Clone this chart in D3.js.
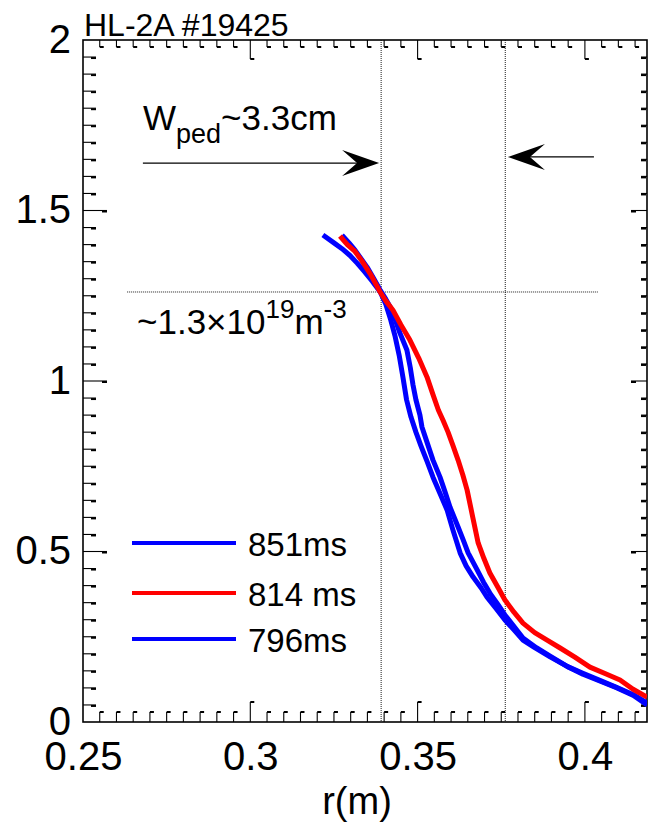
<!DOCTYPE html>
<html><head><meta charset="utf-8">
<script src="https://cdn.jsdelivr.net/npm/d3@7"></script>
<style>
body{margin:0;background:#fff}
text{font-family:"Liberation Sans",Arial,Helvetica,sans-serif;fill:#000}
</style>
</head><body>
<svg id="c" width="648" height="829"></svg>
<script>
// ---------- data ----------
const title = "HL-2A #19425";
const xLabel = "r(m)";
const xTickValues = [0.25, 0.3, 0.35, 0.4];
const yTickValues = [0, 0.5, 1, 1.5, 2];
const seriesNames = ["851ms", "814 ms", "796ms"];
const seriesColors = ["#0000ff", "#ff0000", "#0000ff"];

const r851 = [0.3217,0.3250,0.3274,0.3298,0.3320,0.3340,0.3365,0.3388,0.3405,0.3420,0.3433,0.3445,0.3456,0.3467,0.3480,0.3495,0.3510,0.3528,0.3546,0.3567,0.3588,0.3605,0.3627,0.3645,0.3666,0.3690,0.3707,0.3735,0.3761,0.3790,0.3815,0.3850,0.3896,0.3947,0.3994,0.4050,0.4096,0.4145,0.4186];
const n851 = [1.428,1.405,1.388,1.368,1.345,1.322,1.292,1.262,1.225,1.178,1.130,1.075,1.012,0.945,0.895,0.850,0.810,0.765,0.718,0.670,0.622,0.565,0.496,0.458,0.425,0.393,0.367,0.332,0.299,0.268,0.240,0.218,0.191,0.163,0.143,0.120,0.101,0.080,0.056];

const r814 = [0.3268,0.3290,0.3313,0.3335,0.3360,0.3388,0.3405,0.3426,0.3450,0.3477,0.3503,0.3528,0.3546,0.3562,0.3576,0.3591,0.3606,0.3621,0.3635,0.3648,0.3665,0.3681,0.3698,0.3716,0.3740,0.3761,0.3788,0.3815,0.3850,0.3887,0.3926,0.3970,0.4015,0.4060,0.4105,0.4144,0.4186];
const n814 = [1.425,1.400,1.380,1.350,1.312,1.261,1.235,1.208,1.165,1.120,1.068,1.012,0.960,0.915,0.885,0.850,0.810,0.768,0.725,0.680,0.600,0.525,0.480,0.437,0.395,0.358,0.322,0.290,0.262,0.240,0.217,0.190,0.161,0.142,0.123,0.096,0.073];

const r796 = [0.3274,0.3295,0.3313,0.3330,0.3349,0.3368,0.3388,0.3405,0.3418,0.3433,0.3447,0.3468,0.3478,0.3486,0.3495,0.3507,0.3513,0.3530,0.3546,0.3567,0.3582,0.3597,0.3621,0.3636,0.3651,0.3678,0.3697,0.3716,0.3740,0.3761,0.3790,0.3815,0.3855,0.3896,0.3947,0.3994,0.4050,0.4096,0.4145,0.4186];
const n796 = [1.428,1.405,1.384,1.360,1.334,1.302,1.267,1.240,1.217,1.180,1.141,1.091,1.040,0.990,0.945,0.900,0.865,0.815,0.768,0.718,0.675,0.630,0.572,0.535,0.496,0.446,0.410,0.378,0.345,0.314,0.278,0.246,0.218,0.193,0.163,0.140,0.118,0.100,0.078,0.050];

// annotation values (data coordinates)
const pedLeft = 0.3391, pedRight = 0.3762;      // vertical dotted lines
const pedDensity = 1.261;                        // horizontal dotted line
const hLineRange = [0.2632, 0.4039];
const arrowLeft = {from: 0.2679, to: 0.3385, n: 1.639};
const arrowRight = {from: 0.4027, to: 0.3770, n: 1.657};

// ---------- layout ----------
const svg = d3.select("#c");
const x = d3.scaleLinear().domain([0.25, 0.41856]).range([83, 647]);
const y = d3.scaleLinear().domain([0, 2]).range([722, 40]);
const X0 = x.range()[0], X1 = x.range()[1], Y0 = y.range()[0], Y1 = y.range()[1];

// frame
svg.append("rect").attr("x", X0).attr("y", Y1).attr("width", X1 - X0).attr("height", Y0 - Y1)
  .attr("fill", "none").attr("stroke", "#000").attr("stroke-width", 1.6);

// ticks
const xMinor = d3.range(0, 34).map(i => +(0.25 + i * 0.005).toFixed(3)).filter(v => v > 0.25 && v < x.domain()[1]);
const yMinor = d3.range(1, 40).map(i => +(i * 0.05).toFixed(2));
const isMajorX = v => xTickValues.some(t => Math.abs(t - v) < 1e-6);
const isMajorY = v => yTickValues.some(t => Math.abs(t - v) < 1e-6);

const tk = svg.append("g").attr("stroke", "#000");
xMinor.forEach(v => {
  const len = isMajorX(v) ? 20 : 10;
  const px = x(v);
  tk.append("line").attr("x1", px).attr("x2", px).attr("y1", Y0).attr("y2", Y0 - len).attr("stroke-width", 1.1);
  tk.append("line").attr("x1", px).attr("x2", px + 4).attr("y1", Y0 - len).attr("y2", Y0 - len).attr("stroke-width", 2);
  const lt = isMajorX(v) ? 19 : 7;
  tk.append("line").attr("x1", px).attr("x2", px).attr("y1", Y1).attr("y2", Y1 + lt).attr("stroke-width", 1.1);
  tk.append("line").attr("x1", px).attr("x2", px + 4).attr("y1", Y1 + lt).attr("y2", Y1 + lt).attr("stroke-width", 2);
});
yMinor.forEach(v => {
  const py = y(v);
  const ll = isMajorY(v) ? 24 : 13;
  tk.append("line").attr("x1", X0).attr("x2", X0 + ll).attr("y1", py).attr("y2", py).attr("stroke-width", 1.1);
  tk.append("line").attr("x1", X0 + ll - 5).attr("x2", X0 + ll).attr("y1", py + 1).attr("y2", py + 1).attr("stroke-width", 2);
  const lr = isMajorY(v) ? 16 : 6;
  tk.append("line").attr("x1", X1).attr("x2", X1 - lr).attr("y1", py).attr("y2", py).attr("stroke-width", 1.1);
  tk.append("line").attr("x1", X1 - lr).attr("x2", X1 - lr + 5).attr("y1", py + 1).attr("y2", py + 1).attr("stroke-width", 2);
});

// tick labels via d3 axes
const xAxis = svg.append("g").attr("transform", `translate(0,${Y0})`)
  .call(d3.axisBottom(x).tickValues(xTickValues).tickSize(0).tickFormat(d3.format("")));
xAxis.select(".domain").remove();
xAxis.selectAll("text").attr("y", 48).attr("dy", 0).style("font-size", "40px")
  .style("font-family", "'Liberation Sans',Arial,sans-serif").attr("fill", "#000");

const yAxis = svg.append("g").attr("transform", `translate(${X0},0)`)
  .call(d3.axisLeft(y).tickValues(yTickValues).tickSize(0).tickFormat(d3.format("")));
yAxis.select(".domain").remove();
yAxis.selectAll("text").attr("x", -12).attr("dy", "0.3em").style("font-size", "40px")
  .style("font-family", "'Liberation Sans',Arial,sans-serif").attr("fill", "#000");

// axis title & plot title
svg.append("text").attr("x", 357).attr("y", 814).attr("text-anchor", "middle")
  .style("font-size", "38px").text(xLabel);
svg.append("text").attr("x", 84).attr("y", 36).style("font-size", "32px").text(title);

// dotted guide lines
const guides = svg.append("g").attr("stroke", "#000").attr("stroke-width", 0.9).attr("stroke-dasharray", "1,1");
[pedLeft, pedRight].forEach(v => guides.append("line").attr("x1", x(v)).attr("x2", x(v)).attr("y1", Y1).attr("y2", Y0));
guides.append("line").attr("x1", x(hLineRange[0])).attr("x2", x(hLineRange[1]))
  .attr("y1", y(pedDensity)).attr("y2", y(pedDensity));

// arrows
function arrow(a) {
  const x0 = x(a.from), x1 = x(a.to), py = y(a.n);
  const d = x1 > x0 ? 1 : -1;
  const L = 37, hw = 13, notch = 15;
  svg.append("line").attr("x1", x0).attr("x2", x1 - d * 20).attr("y1", py).attr("y2", py)
    .attr("stroke", "#000").attr("stroke-width", 1.2);
  svg.append("path").attr("d",
    `M${x1},${py} L${x1 - d * L},${py - hw} L${x1 - d * (L - notch)},${py} L${x1 - d * L},${py + hw} Z`)
    .attr("fill", "#000");
}
arrow(arrowLeft);
arrow(arrowRight);

// annotation texts
const t1 = svg.append("text").attr("x", 143).attr("y", 130).style("font-size", "35px");
t1.append("tspan").text("W");
t1.append("tspan").attr("dy", 13).style("font-size", "27px").text("ped");
t1.append("tspan").attr("dy", -13).text("~3.3cm");

const t2 = svg.append("text").attr("x", 137).attr("y", 334).style("font-size", "35px");
t2.append("tspan").text("~1.3\u00d710");
t2.append("tspan").attr("dy", -16).style("font-size", "26px").text("19");
t2.append("tspan").attr("dy", 16).text("m");
t2.append("tspan").attr("dy", -16).style("font-size", "26px").text("-3");

// curves
svg.append("clipPath").attr("id", "clip").append("rect")
  .attr("x", X0).attr("y", Y1).attr("width", X1 - X0).attr("height", Y0 - Y1);
const line = d3.line().x(d => x(d[0])).y(d => y(d[1]));
const series = [
  {r: r796, n: n796, c: seriesColors[2]},
  {r: r851, n: n851, c: seriesColors[0]},
  {r: r814, n: n814, c: seriesColors[1]}
];
const cg = svg.append("g").attr("clip-path", "url(#clip)");
series.forEach(s => {
  cg.append("path").datum(d3.zip(s.r, s.n)).attr("d", line)
    .attr("fill", "none").attr("stroke", s.c).attr("stroke-width", 5)
    .attr("stroke-linejoin", "round").attr("stroke-linecap", "butt");
});

// legend
const lg = svg.append("g");
const legendY = [543, 593, 639];
seriesNames.forEach((name, i) => {
  lg.append("line").attr("x1", 132).attr("x2", 236).attr("y1", legendY[i]).attr("y2", legendY[i])
    .attr("stroke", seriesColors[i]).attr("stroke-width", 4);
  lg.append("text").attr("x", 248).attr("y", legendY[i] + 13).style("font-size", "33px").text(name);
});
</script>
</body></html>
